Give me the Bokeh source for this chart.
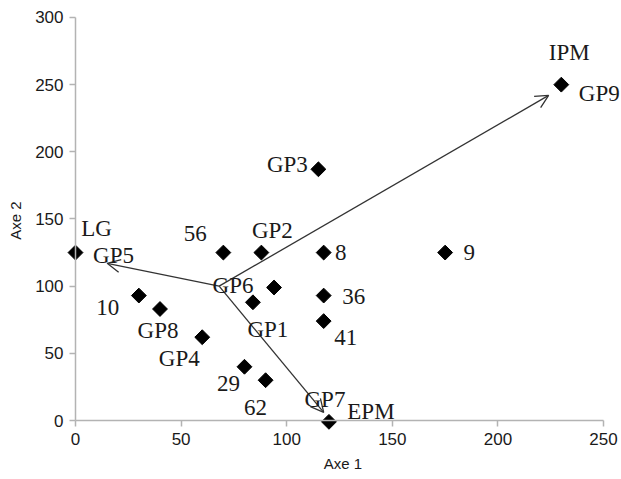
import math
from bokeh.plotting import figure
from bokeh.models import (Range1d, FixedTicker, Arrow, OpenHead, ColumnDataSource,
                          LabelSet, LinearAxis)
from bokeh.embed import file_html
from bokeh.resources import INLINE

# ---- data ----
pt_x = [0, 30, 40, 60, 80, 90, 70, 88, 94, 84, 117.5, 175, 117.5, 117.5, 120, 115, 230]
pt_y = [125, 93, 83, 62, 40, 30, 125, 125, 99, 88, 125, 125, 93, 74, -1, 187, 250]

# labels: text and index of the point they belong to
lab_text = ["LG", "GP5", "10", "GP8", "GP4", "29", "62", "56", "GP2", "GP6", "GP1",
            "8", "9", "36", "41", "GP7", "EPM", "GP3", "IPM", "GP9"]
lab_point = [0, 0, 1, 2, 3, 4, 5, 6, 7, 8, 9, 10, 11, 12, 13, 14, 14, 15, 16, 16]

# arrows (biplot vectors)
arrow_origin = (68, 100)
arrow_end_x = [15, 224, 117.5]
arrow_end_y = [117, 242, 6]

x_ticks = [0, 50, 100, 150, 200, 250]
y_ticks = [0, 50, 100, 150, 200, 250, 300]

# ---- styling (pixel offsets for labels, screen: right / up) ----
lab_dx = [21, 38, -31, -2, -23, -16, -10, -28, 11, -41, 15, 17, 24, 30, 22, -4, 42, -31, 8, 38]
lab_dy = [24, -3, -12, -21, -21, -17, -27, 19, 22, 2, -27, 0, 0, -1, -16, 22, 10, 5, 32, -9]

p = figure(width=621, height=479, output_backend="svg", toolbar_location=None,
           x_range=Range1d(-5.21, 258.5), y_range=Range1d(-7.44, 305.2),
           min_border_left=64, min_border_top=10, min_border_right=0, min_border_bottom=49)
p.outline_line_color = None
p.xgrid.visible = False
p.ygrid.visible = False

GRAY = "#b3b3b3"
TXT = "#1a1a1a"
SANS = "Liberation Sans"

# default axes: only tick labels and titles
for ax in (p.xaxis[0], p.yaxis[0]):
    ax.axis_line_color = None
    ax.major_tick_line_color = None
    ax.minor_tick_line_color = None
    ax.major_tick_out = 0
    ax.major_tick_in = 0
    ax.major_label_text_font = SANS
    ax.major_label_text_font_size = "17px"
    ax.major_label_text_color = TXT
    ax.axis_label_text_font = SANS
    ax.axis_label_text_font_size = "15px"
    ax.axis_label_text_font_style = "normal"
    ax.axis_label_text_color = TXT

p.xaxis.ticker = FixedTicker(ticks=x_ticks)
p.yaxis.ticker = FixedTicker(ticks=y_ticks)
p.xaxis.axis_label = "Axe 1"
p.yaxis.axis_label = "Axe 2"
p.xaxis.major_label_standoff = 2
p.yaxis.major_label_standoff = 1
p.xaxis.axis_label_standoff = 7
p.yaxis.axis_label_standoff = 8

# axis lines and ticks at the origin
xline = LinearAxis(fixed_location=0, bounds=(0, 250), ticker=FixedTicker(ticks=x_ticks))
yline = LinearAxis(fixed_location=0, bounds=(0, 300), ticker=FixedTicker(ticks=y_ticks))
for ax in (xline, yline):
    ax.axis_line_color = GRAY
    ax.axis_line_width = 1.5
    ax.major_tick_line_color = GRAY
    ax.major_tick_line_width = 1.5
    ax.major_tick_out = 6
    ax.major_tick_in = 0
    ax.minor_tick_line_color = None
    ax.major_label_text_alpha = 0
p.add_layout(xline, "below")
p.add_layout(yline, "left")

# arrows
for ex, ey in zip(arrow_end_x, arrow_end_y):
    p.add_layout(Arrow(end=OpenHead(size=13, line_color="#333333", line_width=1.3),
                       x_start=arrow_origin[0], y_start=arrow_origin[1],
                       x_end=ex, y_end=ey, line_color="#333333", line_width=1.3))

# points
p.scatter(pt_x, pt_y, marker="square", size=10.5, angle=math.pi / 4, color="black")

# labels
src = ColumnDataSource(dict(
    x=[pt_x[i] for i in lab_point],
    y=[pt_y[i] for i in lab_point],
    text=lab_text, dx=lab_dx, dy=lab_dy))
p.add_layout(LabelSet(x="x", y="y", text="text", x_offset="dx", y_offset="dy", source=src,
                      text_font="Liberation Serif", text_font_size="23px",
                      text_color=TXT, text_align="center", text_baseline="middle"))

open("out.html", "w").write(file_html(p, INLINE))
